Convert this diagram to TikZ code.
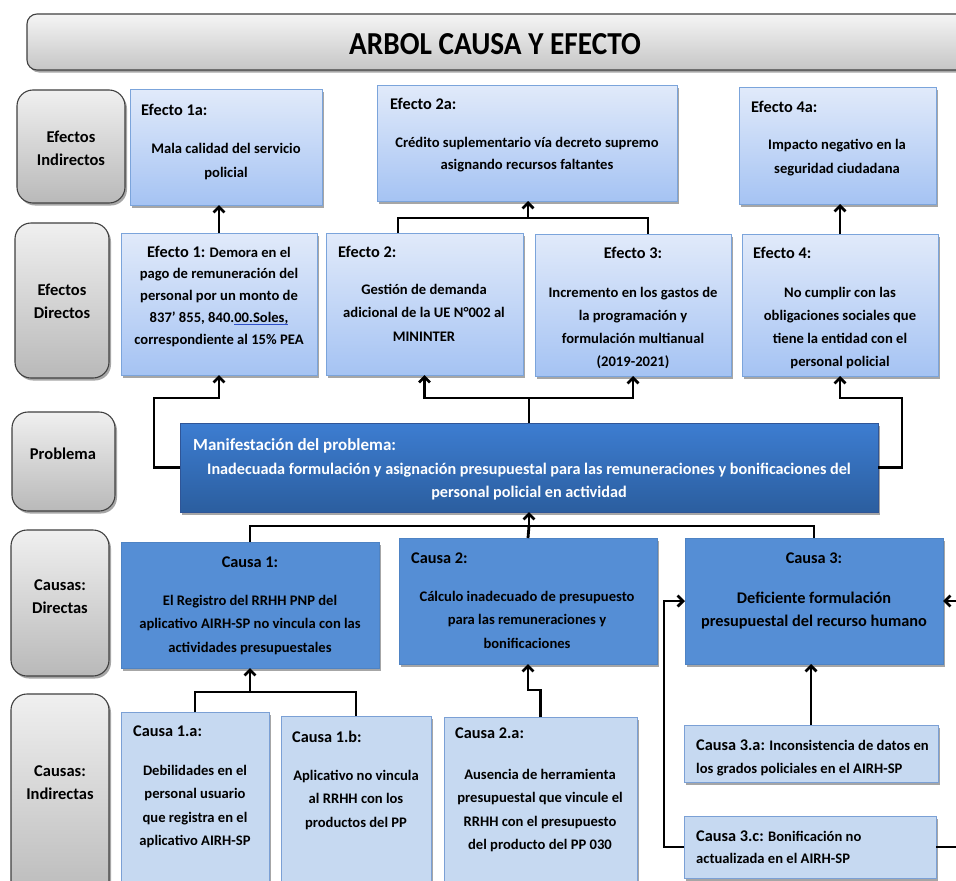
\documentclass[tikz,border=0pt]{standalone}
\usepackage{fontspec}
\setmainfont{Carlito}
\usetikzlibrary{shadows,arrows.meta,calc}
\definecolor{effTop}{HTML}{E1EAFA}
\definecolor{effBot}{HTML}{A5C3F3}
\definecolor{effBord}{HTML}{7BA4DB}
\definecolor{causeBlue}{HTML}{558ED5}
\definecolor{icBlue}{HTML}{C6D9F1}
\definecolor{icBord}{HTML}{7BA0D5}
\definecolor{pTop}{HTML}{3D7DD1}
\definecolor{pBot}{HTML}{2B5E9F}
\definecolor{pBord}{HTML}{2F5597}
\definecolor{ulBlue}{HTML}{2E4FC9}
\newcommand\blueul[1]{\setbox0\hbox{#1}\rlap{\color{ulBlue}\rule[-2.6pt]{\wd0}{1pt}}\box0}
\newcommand\hdf{\fontsize{16.3}{20}\selectfont}
\newcommand\bx[6]{\node[#1, minimum width=#4pt-#2pt, minimum height=#5pt-#3pt] (#6) at (#2,#3) {};}
\tikzset{
  shad/.style={drop shadow={shadow xshift=2pt, shadow yshift=-2.5pt, opacity=0.35, fill=black}},
  base box/.style={anchor=north west, inner sep=0pt, outer sep=0pt},
  lbl/.style={base box, draw=black!75, line width=1.1pt, rounded corners=16pt, top color=gray!12, bottom color=gray!55, shad},
  ttlbox/.style={base box, draw=black!75, line width=1.1pt, rounded corners=10pt, top color=gray!8, bottom color=gray!45, shad},
  effbox/.style={base box, draw=effBord, line width=1pt, top color=effTop, bottom color=effBot, shad},
  cbox/.style={base box, fill=causeBlue, draw=causeBlue!92!black, line width=0.6pt, shad},
  icbox/.style={base box, fill=icBlue, draw=icBord, line width=1pt, shad},
  pbox/.style={base box, top color=pTop, bottom color=pBot, draw=pBord, line width=1pt, shad},
  conn/.style={line width=2.8pt, black},
  arr/.style={conn, -{Straight Barb[length=5.5pt,width=11pt]}},
  hd/.style={font=\hdf\bfseries, anchor=base west, inner sep=0pt},
  hdc/.style={font=\hdf\bfseries, anchor=base, inner sep=0pt},
  bd/.style={font=\fontsize{14.6}{23.5}\selectfont\bfseries, align=center, anchor=base, inner sep=0pt},
  lt/.style={font=\fontsize{16.5}{23}\selectfont\bfseries, align=center, anchor=center, inner sep=0pt},
}
\begin{document}
\begin{tikzpicture}[x=1pt,y=-1pt]
\useasboundingbox (0,0) rectangle (956,881);
\fill[white] (0,0) rectangle (956,881);
\clip (0,0) rectangle (956,881);
% title
\bx{ttlbox}{27}{14}{990}{70}{title}
\node[font=\fontsize{32}{36}\selectfont\bfseries, anchor=base, inner sep=0pt, xscale=0.915] (ttl) at (495,54) {ARBOL CAUSA Y EFECTO};
% left labels
\bx{lbl}{17}{90}{125}{203}{L1}
\node[lt] (L1t) at (71,148) {Efectos\\Indirectos};
\bx{lbl}{15}{223}{109}{378}{L2}
\node[lt] (L2t) at (62,301) {Efectos\\Directos};
\bx{lbl}{12}{412}{115}{511}{L3}
\node[lt] (L3t) at (63,454) {Problema};
\bx{lbl}{11}{530}{109}{676}{L4}
\node[lt] (L4t) at (60,597) {Causas:\\Directas};
\bx{lbl}{11}{694}{109}{905}{L5}
\node[lt] (L5t) at (60,783) {Causas:\\Indirectas};
% indirect effects (multi-line nodes: base = last line baseline)
\bx{effbox}{130}{89}{322}{205}{e1a}
\node[hd] (e1ah) at (141,115) {Efecto 1a:};
\node[bd, font=\fontsize{14.6}{24}\selectfont\bfseries] (e1ab) at (226,177) {Mala calidad del servicio\\policial};
\bx{effbox}{377}{85}{677}{201}{e2a}
\node[hd] (e2ah) at (390,109) {Efecto 2a:};
\node[bd, font=\fontsize{14.6}{22}\selectfont\bfseries] (e2ab) at (527,169) {Crédito suplementario vía decreto supremo\\asignando recursos faltantes};
\bx{effbox}{739}{87}{936}{204}{e4a}
\node[hd] (e4ah) at (751,112) {Efecto 4a:};
\node[bd, font=\fontsize{14.6}{24}\selectfont\bfseries] (e4ab) at (837,173) {Impacto negativo en la\\seguridad ciudadana};
% direct effects
\bx{effbox}{121}{233}{317}{375}{e1}
\node[bd, font=\fontsize{14.6}{21.7}\selectfont\bfseries] (e1b) at (219,344) {{\hdf Efecto 1:} Demora en el\\pago de remuneración del\\personal por un monto de\\837’ 855, 840.\blueul{00.Soles,}\\correspondiente al 15\% PEA};
\bx{effbox}{326}{233}{523}{375}{e2}
\node[hd] (e2h) at (338,257) {Efecto 2:};
\node[bd] (e2b) at (424,341) {Gestión de demanda\\adicional de la UE N°002 al\\MININTER};
\bx{effbox}{535}{234}{731}{376}{e3}
\node[hdc] (e3h) at (633,258) {Efecto 3:};
\node[bd, font=\fontsize{14.6}{23}\selectfont\bfseries] (e3b) at (633,366) {Incremento en los gastos de\\la programación y\\formulación multianual\\(2019-2021)};
\bx{effbox}{742}{234}{938}{376}{e4}
\node[hd] (e4h) at (753,258) {Efecto 4:};
\node[bd, font=\fontsize{14.6}{23}\selectfont\bfseries] (e4b) at (840,366) {No cumplir con las\\obligaciones sociales que\\tiene la entidad con el\\personal policial};
% problem
\bx{pbox}{180}{423}{878}{512}{p}
\node[hd, font=\fontsize{17}{20}\selectfont\bfseries, text=white] (ph) at (193,450) {Manifestación del problema:};
\node[bd, font=\fontsize{16.2}{23}\selectfont\bfseries, text=white] (pb) at (529,497) {Inadecuada formulación y asignación presupuestal para las remuneraciones y bonificaciones del\\personal policial en actividad};
% direct causes
\bx{cbox}{121}{542}{379}{668}{c1}
\node[hdc] (c1h) at (250,567) {Causa 1:};
\node[bd] (c1b) at (250,652) {El Registro del RRHH PNP del\\aplicativo AIRH-SP no vincula con las\\actividades presupuestales};
\bx{cbox}{399}{538}{657}{664}{c2}
\node[hd] (c2h) at (411,563) {Causa 2:};
\node[bd] (c2b) at (527,648) {Cálculo inadecuado de presupuesto\\para las remuneraciones y\\bonificaciones};
\bx{cbox}{685}{538}{943}{664}{c3}
\node[hdc] (c3h) at (814,563) {Causa 3:};
\node[bd, font=\fontsize{16.3}{23.5}\selectfont\bfseries] (c3b) at (814,626.5) {Deficiente formulación\\presupuestal del recurso humano};
% indirect causes
\bx{icbox}{121}{712}{269}{900}{c1a}
\node[hd] (c1ah) at (133,736) {Causa 1.a:};
\node[bd] (c1ab) at (195,845.5) {Debilidades en el\\personal usuario\\que registra en el\\aplicativo AIRH-SP};
\bx{icbox}{281}{716}{431}{900}{c1b}
\node[hd] (c1bh) at (292,742) {Causa 1.b:};
\node[bd] (c1bb) at (356,827) {Aplicativo no vincula\\al RRHH con los\\productos del PP};
\bx{icbox}{444}{717}{637}{900}{c2a}
\node[hd] (c2ah) at (455,738) {Causa 2.a:};
\node[bd] (c2ab) at (540,849.5) {Ausencia de herramienta\\presupuestal que vincule el\\RRHH con el presupuesto\\del producto del PP 030};
\bx{icbox}{684}{725}{938}{782}{c3a}
\node[bd, align=left, anchor=base west] (c3at) at (696,773.5) {{\hdf Causa 3.a:} Inconsistencia de datos en\\los grados policiales en el AIRH-SP};
\bx{icbox}{684}{816}{936}{878}{c3c}
\node[bd, font=\fontsize{14.6}{22}\selectfont\bfseries, align=left, anchor=base west] (c3ct) at (696,863) {{\hdf Causa 3.c:} Bonificación no\\actualizada en el AIRH-SP};
% connectors: effects
\draw[arr] (e1.north) -- (e1.north |- e1a.south);
\coordinate (j2) at (528,218);
\draw[conn] ([xshift=72pt]e2.north west) |- ([xshift=113pt]e3.north west |- j2) -- ([xshift=113pt]e3.north west);
\draw[arr] (j2) -- (j2 |- e2a.south);
\draw[arr] (e4.north) -- (e4.north |- e4a.south);
% problem to effects
\coordinate (pl) at (154,398);
\coordinate (pc) at (529,398);
\coordinate (pr) at (902,398);
\draw[arr] (p.west) -| (pl) -| (e1.south);
\draw[conn] (p.north) -- (pc);
\draw[arr] (pc) -| (e2.south);
\draw[arr] (pc) -| (e3.south);
\draw[arr] (p.east) -| (pr) -| (e4.south);
% causes to problem
\coordinate (cj) at (529,526);
\draw[conn] (c1.north) |- (cj);
\draw[conn] (c3.north) |- (cj);
\draw[conn] (c2.north) -- (cj);
\draw[arr] (cj) -- (p.south);
% indirect to direct
\coordinate (j1) at (250,692);
\draw[conn] (c1a.north) |- (j1) -| (c1b.north);
\draw[arr] (j1) -- (c1.south);
\draw[arr] (c2a.north) -- ++(0,-27) -| (c2.south);
\draw[arr] (c3a.north) -- (c3a.north |- c3.south);
\coordinate (l3) at (664,601);
\coordinate (r3) at (975,601);
\draw[arr] (c3c.west) -| (l3) -- (c3.west);
\draw[arr] (c3c.east) -| (r3) -- (c3.east);
\end{tikzpicture}
\end{document}
